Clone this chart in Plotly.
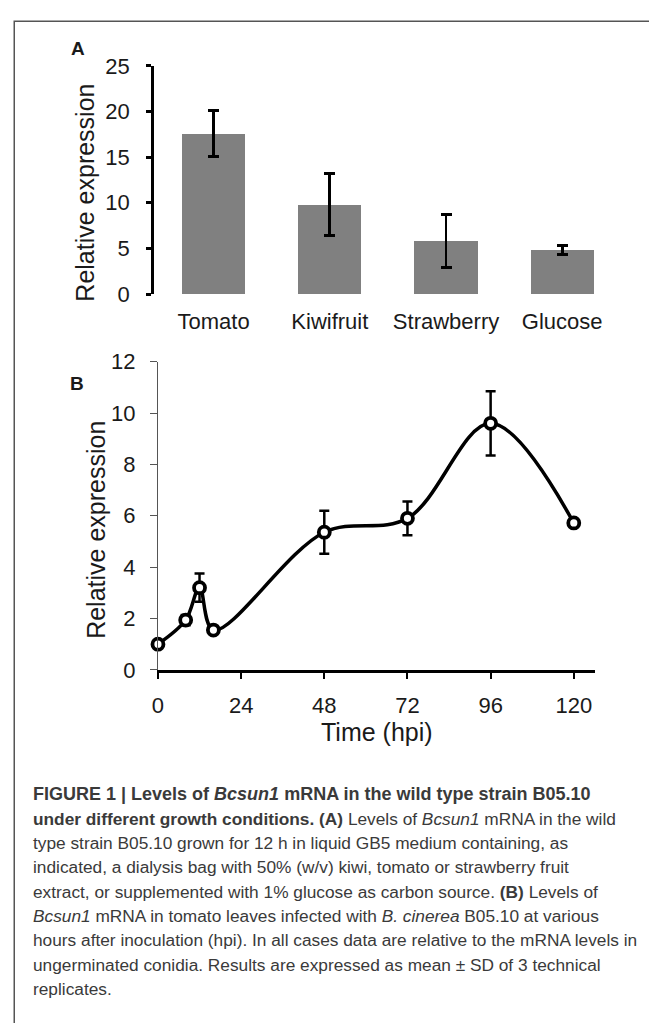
import plotly.graph_objects as go

# ---- data ----
categories = ["Tomato", "Kiwifruit", "Strawberry", "Glucose"]
expr_a = [17.6, 9.8, 5.85, 4.8]
sd_a = [2.55, 3.4, 2.9, 0.5]

hours = [0, 8, 12, 16, 48, 72, 96, 120]
expr_b = [1.0, 1.94, 3.2, 1.55, 5.36, 5.9, 9.6, 5.72]
sd_b = [0.08, 0.2, 0.55, 0.1, 0.84, 0.66, 1.25, 0.12]

yticks_a = [0, 5, 10, 15, 20, 25]
yticks_b = [0, 2, 4, 6, 8, 10, 12]
xticks_b = [0, 24, 48, 72, 96, 120]

caption_lines = [
    "<b>FIGURE 1 | Levels of <i>Bcsun1</i> mRNA in the wild type strain B05.10</b>",
    "<b>under different growth conditions. (A)</b> Levels of <i>Bcsun1</i> mRNA in the wild",
    "type strain B05.10 grown for 12 h in liquid GB5 medium containing, as",
    "indicated, a dialysis bag with 50% (w/v) kiwi, tomato or strawberry fruit",
    "extract, or supplemented with 1% glucose as carbon source. <b>(B)</b> Levels of",
    "<i>Bcsun1</i> mRNA in tomato leaves infected with <i>B. cinerea</i> B05.10 at various",
    "hours after inoculation (hpi). In all cases data are relative to the mRNA levels in",
    "ungerminated conidia. Results are expressed as mean \u00b1 SD of 3 technical",
    "replicates.",
]

# page is offset by the 8px body margin; figure sized to fit the window
OFF = 8
FW, FH = 649, 1015
FONT = "Liberation Sans, Arial, sans-serif"
INK = "#1a1a1a"


def px(x):
    return (x - OFF) / FW


def py(y):
    return 1 - (y - OFF) / FH


fig = go.Figure()

fig.add_trace(go.Bar(
    x=categories, y=expr_a,
    marker=dict(color="#808080", line=dict(width=0)),
    width=0.545,
    error_y=dict(type="data", array=sd_a, visible=True, color="black",
                 thickness=2.8, width=5.5),
    xaxis="x", yaxis="y", showlegend=False,
))

fig.add_trace(go.Scatter(
    x=hours, y=expr_b, mode="lines+markers",
    line=dict(color="black", width=3.5, shape="spline", smoothing=1),
    marker=dict(symbol="circle", size=11, color="white",
                line=dict(color="black", width=3.8)),
    error_y=dict(type="data", array=sd_b, visible=True, color="black",
                 thickness=2.5, width=5),
    cliponaxis=False,
    xaxis="x2", yaxis="y2", showlegend=False,
))

tickfont = dict(family=FONT, size=22, color=INK)

fig.update_layout(
    width=FW, height=FH,
    margin=dict(l=0, r=0, t=0, b=0),
    paper_bgcolor="white", plot_bgcolor="rgba(0,0,0,0)",
    bargap=0,
    xaxis=dict(domain=[px(149.3), px(620)], range=[-0.513, 3.5],
               showline=False, ticks="", showgrid=False, zeroline=False,
               tickfont=tickfont, anchor="y", ticklabelstandoff=12),
    yaxis=dict(domain=[py(289), py(55)], range=[0, 25], tickvals=yticks_a,
               showline=True, linecolor="black", linewidth=2.5,
               ticks="outside", ticklen=5, tickwidth=2.5, tickcolor="black",
               showgrid=False, zeroline=False, tickfont=tickfont,
               anchor="x", ticklabelstandoff=12),
    xaxis2=dict(domain=[px(153.3), px(594)], range=[0, 126], tickvals=xticks_b,
                showline=True, linecolor="black", linewidth=3,
                ticks="outside", ticklen=6, tickwidth=2, tickcolor="black",
                showgrid=False, zeroline=False, tickfont=tickfont,
                anchor="y2", ticklabelstandoff=8),
    yaxis2=dict(domain=[py(674.3), py(358.3)], range=[0, 12], tickvals=yticks_b,
                showline=True, linecolor="#555555", linewidth=1.3,
                ticks="outside", ticklen=7, tickwidth=1.3, tickcolor="#555555",
                showgrid=False, zeroline=False, tickfont=tickfont,
                anchor="x2", ticklabelstandoff=10),
)

annots = [
    dict(text="<b>A</b>", x=px(72.5), y=py(37), font=dict(size=19)),
    dict(text="<b>B</b>", x=px(72), y=py(381), font=dict(size=19)),
    dict(text="Relative expression", x=px(79.7), y=py(185), textangle=-90,
         font=dict(size=25)),
    dict(text="Relative expression", x=px(90.5), y=py(531), textangle=-90,
         font=dict(size=25)),
    dict(text="Time (hpi)", x=px(374), y=py(738), font=dict(size=25)),
]
for a in annots:
    f = dict(family=FONT, color=INK)
    f.update(a.pop("font"))
    fig.add_annotation(xref="paper", yref="paper", xanchor="center",
                       yanchor="middle", showarrow=False, font=f, **a)

for i, line in enumerate(caption_lines):
    fig.add_annotation(
        xref="paper", yref="paper", x=px(25), y=py(801.7 + 25 * i),
        xanchor="left", yanchor="middle", showarrow=False, text=line,
        font=dict(family=FONT, size=18 if i == 0 else 17.3, color="#3a3a3a"),
    )

# frame (top and left edges visible in the reference)
fig.add_shape(type="rect", xref="paper", yref="paper",
              x0=px(8.25), x1=1.2, y0=-0.2, y1=py(9.25),
              line=dict(color="#555555", width=1.5), fillcolor="rgba(0,0,0,0)")

fig.write_html("out.html")
